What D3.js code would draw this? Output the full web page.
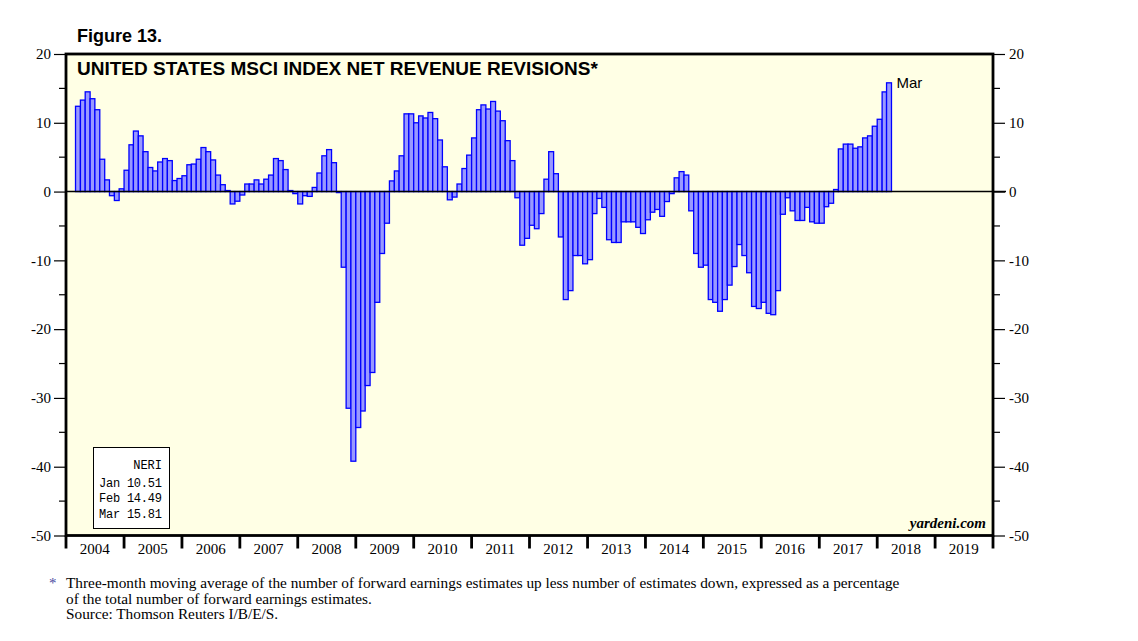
<!DOCTYPE html>
<html>
<head>
<meta charset="utf-8">
<script src="https://cdn.jsdelivr.net/npm/d3@7/dist/d3.min.js"></script>
<style>
  body { margin: 0; background: #fff; }
  svg { display: block; }
</style>
</head>
<body>
<div id="chart"></div>
<script>
// monthly net revenue revisions, Mar 2004 .. Mar 2018
var startMonth = "2004-03";
var neri = [
    12.4, 13.3, 14.5, 13.5, 11.9, 4.7, 1.7, -0.6, -1.3, 0.4, 3.1, 6.8,
    8.8, 8.1, 5.8, 3.5, 3.0, 4.3, 4.8, 4.5, 1.6, 1.9, 2.3, 3.9,
    4.0, 4.7, 6.4, 5.8, 4.6, 2.4, 1.0, 0.15, -1.8, -1.4, -0.5, 1.1,
    1.1, 1.7, 1.1, 1.8, 2.4, 4.8, 4.5, 3.2, 0.15, -0.3, -1.8, -0.6,
    -0.7, 0.6, 2.7, 5.2, 6.1, 4.2, -0.15, -11.0, -31.5, -39.2, -34.3, -31.9,
    -28.2, -26.3, -16.1, -9.0, -4.6, 1.55, 3.0, 5.2, 11.3, 11.3, 10.0, 11.0,
    10.7, 11.5, 10.6, 7.5, 3.6, -1.2, -0.8, 1.1, 3.35, 5.3, 7.8, 11.9,
    12.6, 12.0, 13.1, 11.7, 10.3, 7.4, 4.5, -0.9, -7.8, -6.8, -4.9, -5.4,
    -3.2, 1.8, 5.8, 2.6, -6.6, -15.7, -14.4, -9.3, -9.3, -10.5, -9.9, -3.2,
    -1.0, -2.3, -7.0, -7.4, -7.4, -4.4, -4.4, -4.4, -5.2, -6.1, -4.1, -3.0,
    -2.6, -3.6, -1.45, -0.3, 2.0, 2.9, 2.4, -2.8, -9.0, -11.0, -10.7, -15.7,
    -16.1, -17.4, -15.7, -13.6, -10.9, -7.7, -9.3, -11.8, -16.7, -17.0, -16.1, -17.7,
    -17.9, -14.4, -3.3, -0.9, -2.8, -4.2, -4.2, -2.3, -4.4, -4.6, -4.6, -2.2,
    -1.7, 0.3, 6.2, 6.9, 6.9, 6.3, 6.5, 7.8, 8.1, 9.5, 10.51, 14.49, 15.81
];
var years = d3.range(2004, 2020);
var yTicks = [20, 10, 0, -10, -20, -30, -40, -50];
var yMinorTicks = [15, 5, -5, -15, -25, -35, -45];
var legendRows = ["Jan 10.51", "Feb 14.49", "Mar 15.81"];
var footnote = [
    "Three-month moving average of the number of forward earnings estimates up less number of estimates down, expressed as a percentage",
    "of the total number of forward earnings estimates.",
    "Source: Thomson Reuters I/B/E/S."
];

// plot box (window.top is reserved, so no bare "top")
var pLeft = 66, pRight = 993, pTop = 54, pBottom = 535.5;

var svg = d3.select("#chart")
    .append("svg")
    .attr("width", 1138)
    .attr("height", 641);

var parseMonth = d3.timeParse("%Y-%m");
var first = parseMonth(startMonth);
var data = neri.map(function(v, i) {
    return { date: d3.timeMonth.offset(first, i), value: v };
});

var x = d3.scaleTime()
    .domain([new Date(2004, 0, 1), new Date(2020, 0, 1)])
    .range([pLeft, pRight]);

var y = d3.scaleLinear()
    .domain([-50, 20])
    .range([pBottom, pTop]);

// plot background
svg.append("rect")
    .attr("x", pLeft)
    .attr("y", pTop)
    .attr("width", pRight - pLeft)
    .attr("height", pBottom - pTop)
    .attr("fill", "#ffffe5");

// bars
svg.append("g").selectAll("rect")
    .data(data)
    .enter()
    .append("rect")
    .attr("x", function(d) { return x(d.date); })
    .attr("width", function(d) { return x(d3.timeMonth.offset(d.date, 1)) - x(d.date); })
    .attr("y", function(d) { return y(Math.max(0, d.value)); })
    .attr("height", function(d) { return Math.abs(y(d.value) - y(0)); })
    .attr("fill", "#9999ff")
    .attr("stroke", "#0000ff")
    .attr("stroke-width", 1.3);

// zero line
svg.append("line")
    .attr("x1", pLeft)
    .attr("x2", pRight + 13)
    .attr("y1", y(0))
    .attr("y2", y(0))
    .attr("stroke", "#000")
    .attr("stroke-width", 1.5);

// left / right axes, plain hyphen for negatives
var fmt = function(d) { return String(d); };
var yLeft = d3.axisLeft(y).tickValues(yTicks).tickSize(12).tickPadding(3).tickFormat(fmt);
var yRight = d3.axisRight(y).tickValues(yTicks).tickSize(12).tickPadding(4).tickFormat(fmt);

var gl = svg.append("g").attr("transform", "translate(" + pLeft + ",0)").call(yLeft);
var gr = svg.append("g").attr("transform", "translate(" + pRight + ",0)").call(yRight);

[gl, gr].forEach(function(g) {
    g.select(".domain").remove();
    g.selectAll("line").attr("stroke", "#000").attr("stroke-width", 1.2);
    g.selectAll("text")
        .attr("font-family", "Liberation Serif")
        .attr("font-size", "15px")
        .attr("fill", "#000");
});

svg.append("g").selectAll("line")
    .data(yMinorTicks)
    .enter()
    .append("line")
    .attr("x1", pLeft - 7)
    .attr("x2", pLeft)
    .attr("y1", function(d) { return y(d); })
    .attr("y2", function(d) { return y(d); })
    .attr("stroke", "#000")
    .attr("stroke-width", 1.2);

svg.append("g").selectAll("line")
    .data(yMinorTicks)
    .enter()
    .append("line")
    .attr("x1", pRight)
    .attr("x2", pRight + 7)
    .attr("y1", function(d) { return y(d); })
    .attr("y2", function(d) { return y(d); })
    .attr("stroke", "#000")
    .attr("stroke-width", 1.2);

// year separators and labels
svg.append("g").selectAll("line")
    .data(years.concat([2020]))
    .enter()
    .append("line")
    .attr("x1", function(d) { return x(new Date(d, 0, 1)); })
    .attr("x2", function(d) { return x(new Date(d, 0, 1)); })
    .attr("y1", pBottom)
    .attr("y2", pBottom + 13)
    .attr("stroke", "#000")
    .attr("stroke-width", 2.8);

svg.append("g").selectAll("text")
    .data(years)
    .enter()
    .append("text")
    .attr("x", function(d) { return x(new Date(d, 6, 1)); })
    .attr("y", 554)
    .attr("text-anchor", "middle")
    .attr("font-family", "Liberation Serif")
    .attr("font-size", "15px")
    .text(function(d) { return d; });

// frame
svg.append("rect")
    .attr("x", pLeft)
    .attr("y", pTop)
    .attr("width", pRight - pLeft)
    .attr("height", pBottom - pTop)
    .attr("fill", "none")
    .attr("stroke", "#000")
    .attr("stroke-width", 2.8);

// titles
svg.append("text")
    .attr("x", 77)
    .attr("y", 42)
    .attr("font-family", "Liberation Sans")
    .attr("font-weight", "bold")
    .attr("font-size", "18px")
    .text("Figure 13.");

svg.append("text")
    .attr("x", 77)
    .attr("y", 75)
    .attr("font-family", "Liberation Sans")
    .attr("font-weight", "bold")
    .attr("font-size", "19px")
    .text("UNITED STATES MSCI INDEX NET REVENUE REVISIONS*");

// last month label
var last = data[data.length - 1];
svg.append("text")
    .attr("x", x(d3.timeMonth.offset(last.date, 1)) + 5)
    .attr("y", y(last.value))
    .attr("dy", "0.35em")
    .attr("font-family", "Liberation Sans")
    .attr("font-size", "15px")
    .text("Mar");

// legend box
svg.append("rect")
    .attr("x", 93.5)
    .attr("y", 447.5)
    .attr("width", 76)
    .attr("height", 81)
    .attr("fill", "#fff")
    .attr("stroke", "#000")
    .attr("stroke-width", 1);

svg.append("text")
    .attr("x", 162)
    .attr("y", 469)
    .attr("text-anchor", "end")
    .attr("font-family", "Liberation Mono")
    .attr("font-size", "12px")
    .text("NERI");

svg.append("g").selectAll("text")
    .data(legendRows)
    .enter()
    .append("text")
    .attr("x", 99)
    .attr("y", function(d, i) { return 487 + i * 15.3; })
    .attr("font-family", "Liberation Mono")
    .attr("font-size", "12px")
    .attr("textLength", 63)
    .attr("xml:space", "preserve")
    .text(function(d) { return d; });

svg.append("text")
    .attr("x", 986)
    .attr("y", 528)
    .attr("text-anchor", "end")
    .attr("font-family", "Liberation Serif")
    .attr("font-weight", "bold")
    .attr("font-style", "italic")
    .attr("font-size", "15px")
    .text("yardeni.com");

// footnote
svg.append("text")
    .attr("x", 49)
    .attr("y", 588)
    .attr("font-family", "Liberation Serif")
    .attr("font-size", "15px")
    .attr("fill", "#4a4aa0")
    .text("*");

svg.append("g").selectAll("text")
    .data(footnote)
    .enter()
    .append("text")
    .attr("x", 66)
    .attr("y", function(d, i) { return 588 + i * 15.5; })
    .attr("font-family", "Liberation Serif")
    .attr("font-size", "15.3px")
    .text(function(d) { return d; });
</script>
</body>
</html>
